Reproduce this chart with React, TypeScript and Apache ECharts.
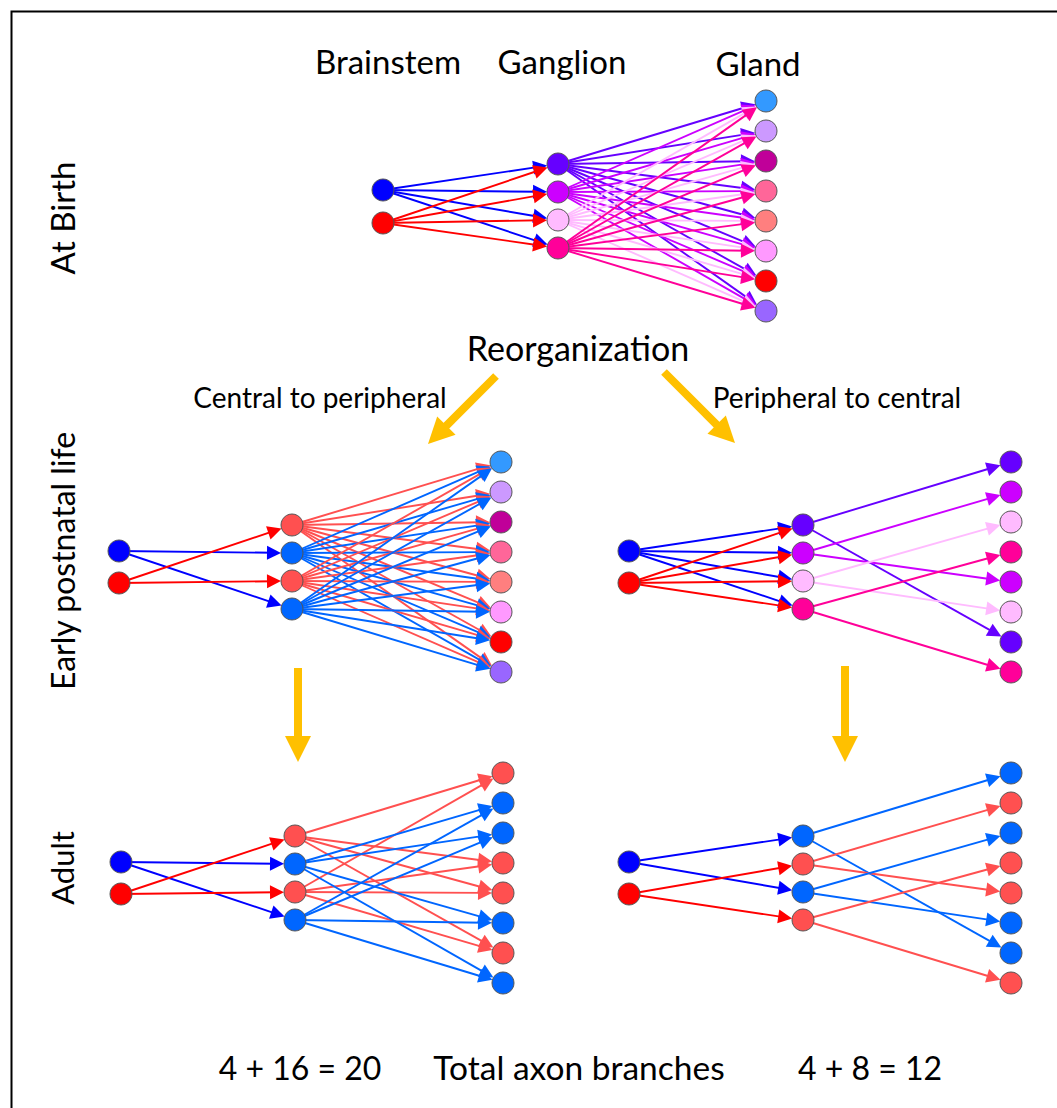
import React, { useEffect, useRef } from "react";
import * as echarts from "echarts";

const W = 1057;
const H = 1108;

// ---------- node columns (x) and rows (y) ----------
const birthStemX = 383;
const birthStemY = [190, 223];
const birthGangX = 558;
const birthGangY = [164, 192, 220, 248];
const birthGlandX = 766;
const birthGlandY = [101, 131, 161, 191, 221, 251, 281, 311];

const earlyLStemX = 119;
const earlyStemY = [551, 583];
const earlyLGangX = 292;
const earlyGangY = [525, 553, 581, 609];
const earlyLGlandX = 501;
const earlyGlandY = [462, 492, 522, 552, 582, 612, 642, 672];

const earlyRStemX = 629;
const earlyRGangX = 803;
const earlyRGlandX = 1011;

const adultLStemX = 121;
const adultStemY = [862, 894];
const adultLGangX = 295;
const adultGangY = [836, 864, 892, 920];
const adultLGlandX = 503;
const adultGlandY = [773, 803, 833, 863, 893, 923, 953, 983];

const adultRStemX = 629;
const adultRGangX = 803;
const adultRGlandX = 1011;

// ---------- colours ----------
const stemColors = ["#0000ff", "#ff0000"];
const birthGangColors = ["#6600ff", "#cc00ff", "#ffbbff", "#ff0099"];
const birthGlandColors = ["#3399ff", "#cc99ff", "#c00099", "#ff6699", "#ff7f7f", "#ff99ff", "#ff0000", "#9966ff"];
const earlyLGangColors = ["#ff5050", "#0066ff", "#ff5050", "#0066ff"];
const earlyRGlandColors = ["#6600ff", "#cc00ff", "#ffbbff", "#ff0099", "#cc00ff", "#ffbbff", "#6600ff", "#ff0099"];
const adultLGlandColors = ["#ff5050", "#0066ff", "#0066ff", "#ff5050", "#ff5050", "#0066ff", "#ff5050", "#0066ff"];
const adultRGangColors = ["#0066ff", "#ff5050", "#0066ff", "#ff5050"];
const adultRGlandColors = ["#0066ff", "#ff5050", "#0066ff", "#ff5050", "#ff5050", "#0066ff", "#0066ff", "#ff5050"];

// ---------- connections [from, to] ----------
const allStem = [[0, 0], [0, 1], [0, 2], [0, 3], [1, 0], [1, 1], [1, 2], [1, 3]];
const allGang: number[][] = [];
for (let g = 0; g < 4; g++) for (let t = 0; t < 8; t++) allGang.push([g, t]);
const splitStemA = [[0, 1], [0, 3], [1, 0], [1, 2]];
const splitStemB = [[0, 0], [0, 2], [1, 1], [1, 3]];
const pairedGang = [[0, 0], [0, 6], [1, 1], [1, 4], [2, 2], [2, 5], [3, 3], [3, 7]];
const adultLGang = [[0, 0], [0, 3], [0, 4], [0, 6], [2, 0], [2, 3], [2, 4], [2, 6], [1, 1], [1, 2], [1, 5], [1, 7], [3, 1], [3, 2], [3, 5], [3, 7]];

// ---------- reorganisation arrows [x1,y1,x2,y2] (tail -> tip) ----------
const reorgArrows = [
  [496, 376, 428, 444],
  [664, 372, 735, 443],
  [298, 668, 298, 762],
  [845, 666, 845, 762],
];

const NODE_R = 11;
const ARROW = 14;

type Panel = {
  stemX: number; stemY: number[]; gangX: number; gangY: number[]; glandX: number; glandY: number[];
  gangColors: string[]; glandColors: string[]; stemEdges: number[][]; gangEdges: number[][];
};

const panels: Panel[] = [
  { stemX: birthStemX, stemY: birthStemY, gangX: birthGangX, gangY: birthGangY, glandX: birthGlandX, glandY: birthGlandY,
    gangColors: birthGangColors, glandColors: birthGlandColors, stemEdges: allStem, gangEdges: allGang },
  { stemX: earlyLStemX, stemY: earlyStemY, gangX: earlyLGangX, gangY: earlyGangY, glandX: earlyLGlandX, glandY: earlyGlandY,
    gangColors: earlyLGangColors, glandColors: birthGlandColors, stemEdges: splitStemA, gangEdges: allGang },
  { stemX: earlyRStemX, stemY: earlyStemY, gangX: earlyRGangX, gangY: earlyGangY, glandX: earlyRGlandX, glandY: earlyGlandY,
    gangColors: birthGangColors, glandColors: earlyRGlandColors, stemEdges: allStem, gangEdges: pairedGang },
  { stemX: adultLStemX, stemY: adultStemY, gangX: adultLGangX, gangY: adultGangY, glandX: adultLGlandX, glandY: adultGlandY,
    gangColors: earlyLGangColors, glandColors: adultLGlandColors, stemEdges: splitStemA, gangEdges: adultLGang },
  { stemX: adultRStemX, stemY: adultStemY, gangX: adultRGangX, gangY: adultGangY, glandX: adultRGlandX, glandY: adultGlandY,
    gangColors: adultRGangColors, glandColors: adultRGlandColors, stemEdges: splitStemB, gangEdges: pairedGang },
];

function shorten(x1: number, y1: number, x2: number, y2: number, d: number) {
  const dx = x2 - x1, dy = y2 - y1;
  const L = Math.sqrt(dx * dx + dy * dy);
  return [x2 - (dx / L) * d, y2 - (dy / L) * d];
}

function buildData() {
  const nodes: any[] = [];
  const edges: any[] = [];
  panels.forEach((p) => {
    p.stemEdges.forEach(([s, g]) => {
      const x1 = p.stemX, y1 = p.stemY[s], x2 = p.gangX, y2 = p.gangY[g];
      edges.push({ coords: [[x1, y1], shorten(x1, y1, x2, y2, NODE_R + ARROW / 2)], lineStyle: { color: stemColors[s] } });
    });
    p.gangEdges.forEach(([g, t]) => {
      const x1 = p.gangX, y1 = p.gangY[g], x2 = p.glandX, y2 = p.glandY[t];
      edges.push({ coords: [[x1, y1], shorten(x1, y1, x2, y2, NODE_R + ARROW / 2)], lineStyle: { color: p.gangColors[g] } });
    });
    p.stemY.forEach((y, i) => nodes.push({ value: [p.stemX, y], itemStyle: { color: stemColors[i] } }));
    p.gangY.forEach((y, i) => nodes.push({ value: [p.gangX, y], itemStyle: { color: p.gangColors[i] } }));
    p.glandY.forEach((y, i) => nodes.push({ value: [p.glandX, y], itemStyle: { color: p.glandColors[i] } }));
  });
  const yellow = reorgArrows.map(([x1, y1, x2, y2]) => ({ coords: [[x1, y1], shorten(x1, y1, x2, y2, 13)] }));
  return { nodes, edges, yellow };
}

const FONT = "Lato, 'Open Sans', sans-serif";

function txt(text: string, x: number, y: number, size: number, rotation = 0) {
  return {
    type: "text",
    x, y, rotation,
    style: { text, fill: "#000", font: `${size}px ${FONT}`, align: "center", verticalAlign: "middle", textAlign: "center", textVerticalAlign: "middle" },
    z: 10,
  };
}

export default function App() {
  const ref = useRef<HTMLDivElement>(null);
  useEffect(() => {
    if (!ref.current) return;
    const chart = echarts.init(ref.current, undefined, { renderer: "svg" });
    const { nodes, edges, yellow } = buildData();
    chart.setOption({
      animation: false,
      backgroundColor: "#ffffff",
      grid: { left: 0, right: 0, top: 0, bottom: 0 },
      xAxis: { type: "value", min: 0, max: W, show: false },
      yAxis: { type: "value", min: 0, max: H, inverse: true, show: false },
      series: [
        {
          type: "lines",
          coordinateSystem: "cartesian2d",
          symbol: ["none", "triangle"],
          symbolSize: ARROW,
          lineStyle: { width: 1.9, opacity: 1 },
          data: edges,
          z: 2,
        },
        {
          type: "lines",
          coordinateSystem: "cartesian2d",
          symbol: ["none", "triangle"],
          symbolSize: 26,
          lineStyle: { width: 8, color: "#ffc000", opacity: 1 },
          data: yellow,
          z: 2,
        },
        {
          type: "scatter",
          symbol: "circle",
          symbolSize: NODE_R * 2,
          itemStyle: { borderColor: "#555555", borderWidth: 1, opacity: 1 },
          data: nodes,
          z: 3,
        },
      ],
      graphic: [
        { type: "rect", shape: { x: 11.5, y: 11.5, width: 1200, height: 1200 }, style: { fill: "none", stroke: "#000", lineWidth: 2 }, z: 1 },
        txt("Brainstem", 388, 61, 33),
        txt("Ganglion", 562, 61, 33),
        txt("Gland", 758, 63, 33),
        txt("Reorganization", 578, 347, 34),
        txt("Central to peripheral", 320, 397, 28),
        txt("Peripheral to central", 837, 397, 28),
        txt("At Birth", 62, 218, 33, Math.PI / 2),
        txt("Early postnatal life", 62, 561, 32, Math.PI / 2),
        txt("Adult", 62, 868, 31, Math.PI / 2),
        txt("4 + 16 = 20", 300, 1067, 32),
        txt("Total axon branches", 579, 1067, 33.5),
        txt("4 + 8 = 12", 870, 1067, 32),
      ],
    });
    return () => chart.dispose();
  }, []);
  return <div ref={ref} style={{ position: "absolute", left: 0, top: 0, width: W, height: H }} />;
}
